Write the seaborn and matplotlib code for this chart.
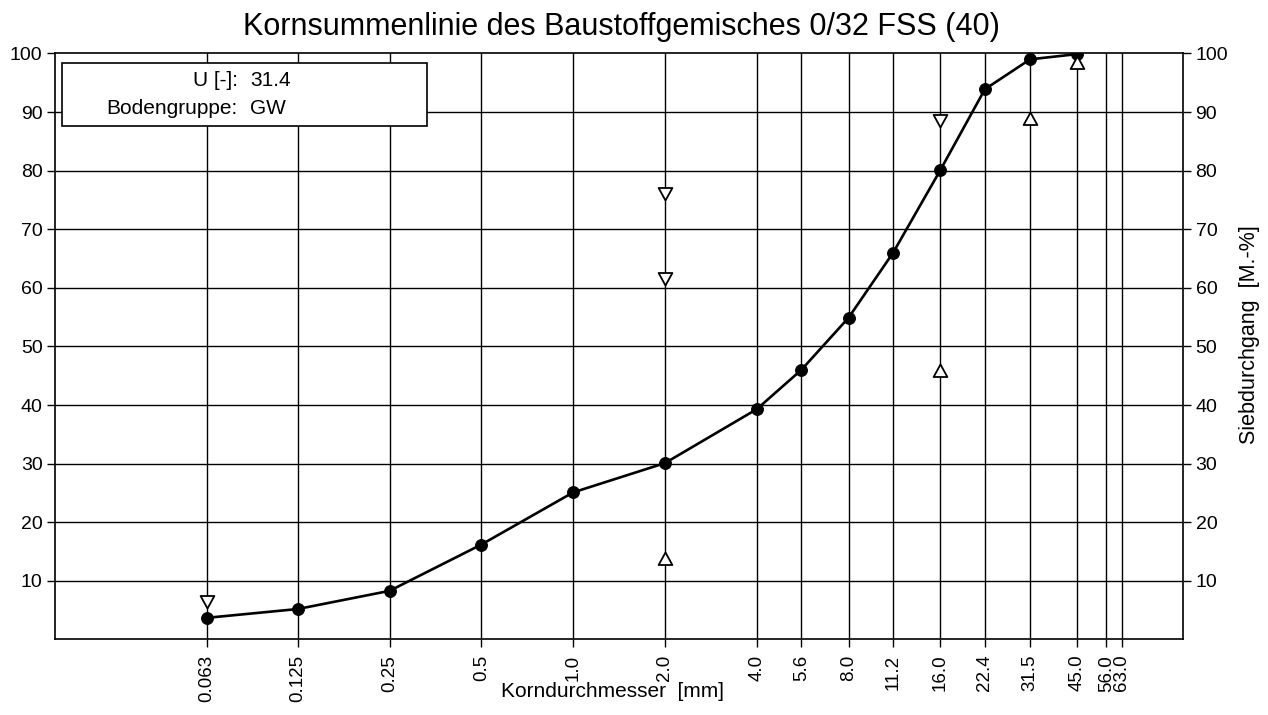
import numpy as np
import pandas as pd
import matplotlib
matplotlib.use("Agg")
import matplotlib.pyplot as plt
import seaborn as sns
from matplotlib.path import Path
from matplotlib.patches import Rectangle

# ---- data ----
sieve_sizes = [0.063, 0.125, 0.25, 0.5, 1.0, 2.0, 4.0, 5.6, 8.0, 11.2, 16.0, 22.4, 31.5, 45.0, 56.0, 63.0]
sieve_labels = ["0.063", "0.125", "0.25", "0.5", "1.0", "2.0", "4.0", "5.6", "8.0", "11.2",
                "16.0", "22.4", "31.5", "45.0", "56.0", "63.0"]
curve_sizes = [0.063, 0.125, 0.25, 0.5, 1.0, 2.0, 4.0, 5.6, 8.0, 11.2, 16.0, 22.4, 31.5, 45.0]
curve_passing = [3.7, 5.2, 8.3, 16.2, 25.1, 30.1, 39.3, 46.0, 54.9, 66.0, 80.1, 93.9, 99.0, 99.9]
lower_sizes = [2.0, 16.0, 31.5, 45.0]
lower_values = [15.0, 47.0, 90.0, 99.5]
upper_sizes = [0.063, 2.0, 2.0, 16.0]
upper_values = [5.3, 75.0, 60.5, 87.5]
y_ticks = [10, 20, 30, 40, 50, 60, 70, 80, 90, 100]

title = "Kornsummenlinie des Baustoffgemisches 0/32 FSS (40)"
x_label = "Korndurchmesser  [mm]"
y_label = "Siebdurchgang  [M.-%]"
info_keys = ["U [-]:", "Bodengruppe:"]
info_vals = ["31.4", "GW"]

sns.set_style("white")
plt.rcParams["font.family"] = ["Liberation Sans", "DejaVu Sans"]
plt.rcParams["text.color"] = "black"
plt.rcParams["axes.labelcolor"] = "black"
plt.rcParams["xtick.color"] = "black"
plt.rcParams["ytick.color"] = "black"

fig = plt.figure(figsize=(12.68, 7.15), dpi=100)
ax = fig.add_axes([0.0434, 0.1056, 0.8896, 0.8196])

df = pd.DataFrame({"size": curve_sizes, "passing": curve_passing})

# grid lines
for s in sieve_sizes:
    ax.axvline(s, color="black", lw=1.0, zorder=1)
for v in y_ticks[:-1]:
    ax.axhline(v, color="black", lw=1.0, zorder=1)

sns.lineplot(data=df, x="size", y="passing", ax=ax, color="black", lw=1.9,
             marker="o", markersize=8.5, markeredgecolor="black", markerfacecolor="black",
             zorder=5, legend=False)

# open arrow markers with tip at the value
down_path = Path([(0, 0), (-0.55, 1), (0.55, 1), (0, 0)],
                 [Path.MOVETO, Path.LINETO, Path.LINETO, Path.CLOSEPOLY])
up_path = Path([(0, 0), (-0.55, -1), (0.55, -1), (0, 0)],
               [Path.MOVETO, Path.LINETO, Path.LINETO, Path.CLOSEPOLY])
ax.plot(upper_sizes, upper_values, linestyle="none", marker=down_path, markersize=18,
        markerfacecolor="white", markeredgecolor="black", markeredgewidth=1.3, zorder=6)
ax.plot(lower_sizes, lower_values, linestyle="none", marker=up_path, markersize=18,
        markerfacecolor="white", markeredgecolor="black", markeredgewidth=1.3, zorder=6)

ax.set_xscale("log")
ax.set_xlim(0.02, 100)
ax.set_ylim(0, 100)
ax.set_xticks(sieve_sizes)
ax.set_xticklabels(sieve_labels, rotation=90, fontsize=13.5)
ax.xaxis.set_minor_locator(matplotlib.ticker.NullLocator())
ax.set_yticks(y_ticks)
ax.set_yticklabels([str(v) for v in y_ticks], fontsize=14)
ax.tick_params(axis="both", direction="out", length=6, width=1.0, color="black", pad=3)
ax.tick_params(axis="x", pad=5)
ax.tick_params(axis="y", left=True)
ax.tick_params(axis="x", bottom=True)
for sp in ax.spines.values():
    sp.set_color("black")
    sp.set_linewidth(1.2)
    sp.set_visible(True)

ax.set_xlabel(x_label, fontsize=15)
ax.xaxis.set_label_coords(0.494, -0.088)
ax.xaxis.label.set_va("center")
ax.set_ylabel("")

ax2 = ax.twinx()
ax2.set_ylim(0, 100)
ax2.set_yticks(y_ticks)
ax2.set_yticklabels([str(v) for v in y_ticks], fontsize=14)
ax2.tick_params(axis="y", direction="out", length=6, width=1.0, color="black", pad=3, right=True)
ax2.set_ylabel(y_label, fontsize=15.5)
ax2.yaxis.set_label_coords(1.059, 0.52)
ax2.yaxis.label.set_va("center")
for sp in ax2.spines.values():
    sp.set_visible(False)

# info box
box = Rectangle((0.0062, 0.877), 0.3236, 0.106, transform=ax.transAxes,
                facecolor="white", edgecolor="black", lw=1.2, zorder=8)
ax.add_patch(box)
ax.text(0.162, 0.954, info_keys[0], transform=ax.transAxes, ha="right", va="center",
        fontsize=15, zorder=9)
ax.text(0.173, 0.954, info_vals[0], transform=ax.transAxes, ha="left", va="center",
        fontsize=15, zorder=9)
ax.text(0.162, 0.906, info_keys[1], transform=ax.transAxes, ha="right", va="center",
        fontsize=15, zorder=9)
ax.text(0.173, 0.906, info_vals[1], transform=ax.transAxes, ha="left", va="center",
        fontsize=15, zorder=9)

fig.text(0.49, 0.962, title, ha="center", va="center", fontsize=22)

fig.savefig("out.png", dpi=100)
